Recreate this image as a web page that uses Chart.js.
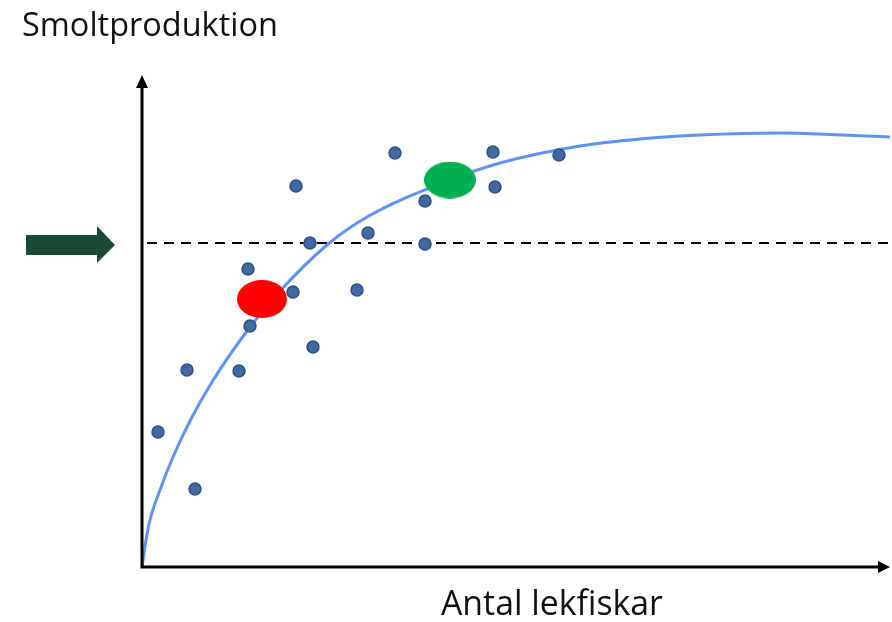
<!DOCTYPE html>
<html>
<head>
<meta charset="utf-8">
<script src="https://cdn.jsdelivr.net/npm/chart.js@4"></script>
<style>
  html, body { margin: 0; padding: 0; background: #fff; overflow: hidden; }
  canvas { display: block; }
</style>
</head>
<body>
<canvas id="c" width="892" height="622"></canvas>
<script>
// observations (Antal lekfiskar, Smoltproduktion), arbitrary units
const obsX = [3.2, 9, 10.6, 19.4, 21.2, 21.6, 30.2, 30.8, 33.6, 34.2, 43, 45.2, 50.6, 56.6, 56.6, 70.2, 70.6, 83.4];
const obsY = [27, 39.4, 15.6, 39.2, 59.6, 48.2, 55, 76.2, 64.8, 44, 55.4, 66.8, 82.8, 73.2, 64.6, 83, 76, 82.4];

// fitted stock-recruitment curve
const curveX = [0, 0.8, 1.6, 3.6, 6.2, 9.6, 14, 21.6, 27.6, 37, 45, 61.6, 71.6, 87.6, 99.6, 111.6, 127.6, 140, 149.6];
const curveY = [0, 5.4, 9.4, 15.4, 22, 29.2, 37, 48, 55.2, 64.4, 70, 77.4, 80.8, 84.2, 85.6, 86.4, 86.8, 86.4, 86];

// target level (dashed line)
const targetY = 64.8;
const targetX = [1, 149.6];

// highlighted states
const redPoint = [24, 53.6];
const greenPoint = [61.6, 77.4];

const xMax = 150;
const yMax = 98;

function ellipse(w, h, color) {
    const cv = document.createElement('canvas');
    cv.width = w; cv.height = h;
    const g = cv.getContext('2d');
    g.fillStyle = color;
    g.beginPath();
    g.ellipse(w / 2, h / 2, w / 2, h / 2, 0, 0, Math.PI * 2);
    g.fill();
    return cv;
}

function fitFont(ctx, text, width, family) {
    ctx.font = `100px ${family}`;
    const size = 100 * width / ctx.measureText(text).width;
    ctx.font = `${size}px ${family}`;
}

const decor = {
    id: 'decor',
    afterDatasetsDraw(chart) {
        const { ctx, chartArea: a, scales } = chart;
        const x0 = a.left, y0 = a.bottom;
        const tipX = a.right - 2;
        ctx.save();
        // axes with arrowheads
        ctx.strokeStyle = '#000';
        ctx.fillStyle = '#000';
        ctx.lineWidth = 3;
        ctx.beginPath();
        ctx.moveTo(x0, y0 + 1.5); ctx.lineTo(x0, a.top + 8);
        ctx.moveTo(x0 - 1.5, y0); ctx.lineTo(tipX - 10, y0);
        ctx.stroke();
        ctx.beginPath();
        ctx.moveTo(x0, a.top - 2); ctx.lineTo(x0 - 6, a.top + 11); ctx.lineTo(x0 + 6, a.top + 11); ctx.closePath();
        ctx.fill();
        ctx.beginPath();
        ctx.moveTo(tipX, y0); ctx.lineTo(tipX - 12, y0 - 6); ctx.lineTo(tipX - 12, y0 + 6); ctx.closePath();
        ctx.fill();

        // green arrow pointing at target level
        const ty = scales.y.getPixelForValue(targetY);
        ctx.fillStyle = '#1a4a35';
        ctx.beginPath();
        ctx.moveTo(x0 - 116, ty - 8);
        ctx.lineTo(x0 - 45, ty - 8);
        ctx.lineTo(x0 - 45, ty - 17);
        ctx.lineTo(x0 - 27, ty + 2);
        ctx.lineTo(x0 - 45, ty + 20);
        ctx.lineTo(x0 - 45, ty + 12);
        ctx.lineTo(x0 - 116, ty + 12);
        ctx.closePath();
        ctx.fill();

        // labels
        ctx.fillStyle = '#111';
        ctx.textBaseline = 'alphabetic';
        ctx.textAlign = 'left';
        fitFont(ctx, 'Smoltproduktion', 256, '"Open Sans", sans-serif');
        ctx.fillText('Smoltproduktion', 22, 36);
        fitFont(ctx, 'Antal lekfiskar', 222, '"Open Sans", sans-serif');
        ctx.fillText('Antal lekfiskar', 441, 615);
        ctx.restore();
    }
};

new Chart(document.getElementById('c'), {
    type: 'scatter',
    data: {
        datasets: [
            {
                data: obsX.map((x, i) => ({ x, y: obsY[i] })),
                backgroundColor: '#41699f', borderColor: '#2d5185', borderWidth: 1.5,
                pointRadius: 6, order: 1,
            },
            {
                data: [{ x: redPoint[0], y: redPoint[1] }],
                pointStyle: ellipse(50, 38, '#ff0000'), order: 2,
            },
            {
                data: [{ x: greenPoint[0], y: greenPoint[1] }],
                pointStyle: ellipse(52, 37, '#00b050'), order: 2,
            },
            {
                type: 'line',
                data: curveX.map((x, i) => ({ x, y: curveY[i] })),
                borderColor: '#5e92f3', borderWidth: 3, pointRadius: 0,
                cubicInterpolationMode: 'monotone', fill: false, order: 3,
            },
            {
                type: 'line',
                data: targetX.map((x) => ({ x, y: targetY })),
                borderColor: '#000', borderWidth: 2, borderDash: [10, 7], pointRadius: 0,
                fill: false, order: 4,
            },
        ],
    },
    options: {
        responsive: false, animation: false,
        layout: { autoPadding: false, padding: { left: 142, right: 0, top: 77, bottom: 55 } },
        plugins: { legend: { display: false }, tooltip: { enabled: false } },
        scales: {
            x: { type: 'linear', min: 0, max: xMax, display: false },
            y: { type: 'linear', min: 0, max: yMax, display: false },
        },
    },
    plugins: [decor],
});
</script>
</body>
</html>
